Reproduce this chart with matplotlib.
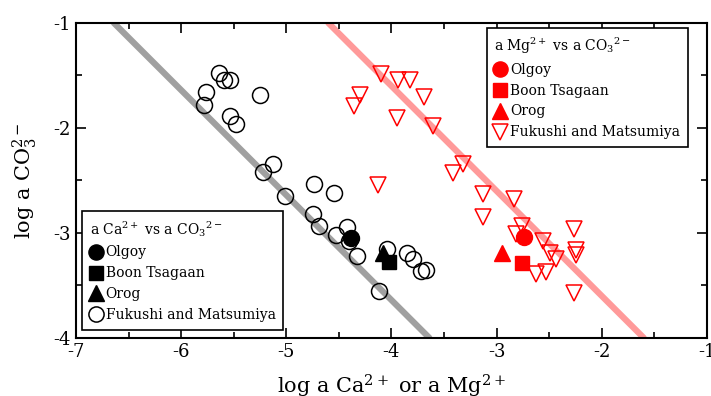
import numpy as np
import matplotlib
matplotlib.use("Agg")
import matplotlib.pyplot as plt
from matplotlib.ticker import MultipleLocator

plt.rcParams["font.family"] = "DejaVu Serif"
plt.rcParams["mathtext.fontset"] = "dejavuserif"
plt.rcParams["axes.unicode_minus"] = False

# Ca2+ vs CO3 2- (black)
ca_fm_x = [-5.64, -5.59, -5.54, -5.76, -5.78, -5.25, -5.54, -5.48, -5.13, -5.22,
           -4.74, -4.55, -5.01, -4.75, -4.69, -4.53, -4.42, -4.40, -4.33, -4.12,
           -4.04, -3.85, -3.79, -3.72, -3.67]
ca_fm_y = [-1.48, -1.54, -1.54, -1.66, -1.78, -1.69, -1.89, -1.96, -2.34, -2.42,
           -2.53, -2.62, -2.65, -2.82, -2.93, -3.02, -2.94, -3.08, -3.22, -3.55,
           -3.15, -3.19, -3.25, -3.36, -3.35]
ca_olgoy = (-4.38, -3.05)
ca_boon = (-4.02, -3.28)
ca_orog = (-4.08, -3.19)

# Mg2+ vs CO3 2- (red)
mg_fm_x = [-4.10, -3.94, -3.82, -4.30, -4.36, -3.69, -3.95, -3.60, -3.32, -3.41,
           -4.13, -3.13, -2.83, -3.13, -2.76, -2.81, -2.56, -2.26, -2.49, -2.43,
           -2.24, -2.24, -2.62, -2.53, -2.26]
mg_fm_y = [-1.49, -1.54, -1.54, -1.69, -1.79, -1.71, -1.91, -1.98, -2.34, -2.43,
           -2.54, -2.63, -2.68, -2.85, -2.93, -3.01, -3.08, -2.96, -3.19, -3.25,
           -3.16, -3.21, -3.39, -3.37, -3.57]
mg_olgoy = (-2.74, -3.04)
mg_boon = (-2.76, -3.29)
mg_orog = (-2.95, -3.19)

# saturation lines: log a Me + log a CO3 = const
ca_line_x = [-6.64, -3.64]
ca_const = -7.64
mg_line_x = [-4.60, -1.60]
mg_const = -5.60

fig, ax = plt.subplots(figsize=(7.11, 3.96), dpi=100)
fig.subplots_adjust(left=0.107, right=0.994, top=0.942, bottom=0.147)

ax.plot(ca_line_x, ca_const - np.array(ca_line_x), color="#a0a0a0", lw=4.5,
        solid_capstyle="round", zorder=1)
ax.plot(mg_line_x, mg_const - np.array(mg_line_x), color="#ff9a9a", lw=4.5,
        solid_capstyle="round", zorder=1)

ms = 11.5
h1 = [
    ax.plot(*ca_olgoy, "o", color="black", ms=ms)[0],
    ax.plot(*ca_boon, "s", color="black", ms=ms - 1)[0],
    ax.plot(*ca_orog, "^", color="black", ms=ms)[0],
    ax.plot(ca_fm_x, ca_fm_y, "o", mfc="none", mec="black", mew=1.1, ms=ms)[0],
]
h2 = [
    ax.plot(*mg_olgoy, "o", color="red", ms=ms)[0],
    ax.plot(*mg_boon, "s", color="red", ms=ms - 1)[0],
    ax.plot(*mg_orog, "^", color="red", ms=ms)[0],
    ax.plot(mg_fm_x, mg_fm_y, "v", mfc="none", mec="red", mew=1.1, ms=ms)[0],
]
names = ["Olgoy", "Boon Tsagaan", "Orog", "Fukushi and Matsumiya"]

leg_kw = dict(fontsize=10, title_fontsize=10, markerscale=0.95,
              handlelength=0.9, handletextpad=0.25, labelspacing=0.5,
              fancybox=False, edgecolor="black", framealpha=1,
              alignment="left", borderpad=0.55, borderaxespad=0)
leg1 = ax.legend(h1, names, title="a Ca$^{2+}$ vs a CO$_3$$^{2-}$",
                 loc="lower left", bbox_to_anchor=(0.0095, 0.025), **leg_kw)
leg1.get_frame().set_linewidth(1.2)
ax.add_artist(leg1)
leg2 = ax.legend(h2, names, title="a Mg$^{2+}$ vs a CO$_3$$^{2-}$",
                 loc="upper right", bbox_to_anchor=(0.97, 0.985), **leg_kw)
leg2.get_frame().set_linewidth(1.2)

ax.set_xlim(-7, -1)
ax.set_ylim(-4, -1)
ax.xaxis.set_major_locator(MultipleLocator(1))
ax.xaxis.set_minor_locator(MultipleLocator(0.5))
ax.yaxis.set_major_locator(MultipleLocator(1))
ax.yaxis.set_minor_locator(MultipleLocator(0.5))
ax.tick_params(which="both", direction="in", top=True, right=True, width=1.2)
ax.tick_params(which="major", length=7, labelsize=13, pad=4)
ax.tick_params(which="minor", length=4)
for s in ax.spines.values():
    s.set_linewidth(1.5)

ax.set_xlabel("log a Ca$^{2+}$ or a Mg$^{2+}$", fontsize=15, labelpad=8)
ax.set_ylabel("log a CO$_3^{2-}$", fontsize=15, labelpad=10)

fig.savefig("out.png", dpi=100)
